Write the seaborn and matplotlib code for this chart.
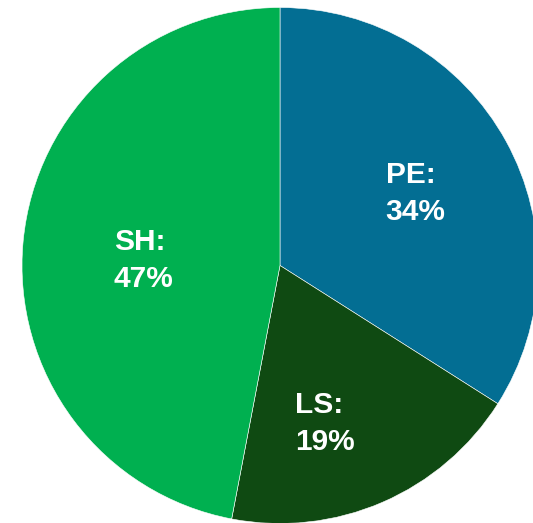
import numpy as np
import matplotlib
matplotlib.use("Agg")
import matplotlib.pyplot as plt
import seaborn as sns

categories = ["PE", "LS", "SH"]
values = [34, 19, 47]
colors = ["#036E93", "#0F4A12", "#00B050"]
# label anchor positions (in pie radius units)
label_xy = [(0.526, 0.278), (0.174, -0.612), (-0.529, 0.020)]

sns.set_theme(style="white")
plt.rcParams['font.family'] = ['Liberation Sans', 'DejaVu Sans']

fig = plt.figure(figsize=(5.33, 5.23), dpi=100)
ax = fig.add_axes([0, 0, 1, 1])
wedges, _ = ax.pie(values, colors=colors, startangle=90, counterclock=False,
                   wedgeprops=dict(edgecolor="white", linewidth=0.4))
for c, v, (x, y) in zip(categories, values, label_xy):
    ax.text(x, y, f"{c}:\n{v}%", ha="center", va="center",
            multialignment="left", color="white", fontsize=21.5, fontweight="bold",
            linespacing=1.4)
s = 258
cx, cy = 280, 265.5
ax.set_xlim(-cx / s, (533 - cx) / s)
ax.set_ylim(-(523 - cy) / s, cy / s)
ax.set_aspect("auto")
ax.axis("off")
fig.savefig("out.png", dpi=100)
